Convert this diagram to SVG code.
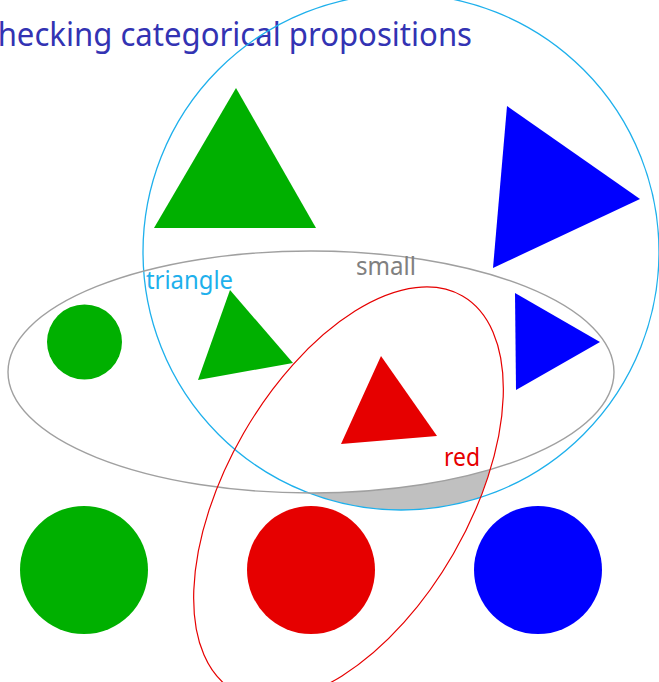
<svg xmlns="http://www.w3.org/2000/svg" width="659" height="682" viewBox="0 0 659 682">
<style>
.green{fill:#00b000}
.red{fill:#e60000}
.blue{fill:#0000ff}
.lbl{font-family:"Noto Sans","Liberation Sans",sans-serif;font-size:26px}
.title{font-family:"Noto Sans","Liberation Sans",sans-serif;font-size:32px;fill:#3333b3}
.set{fill:none}
</style>
<defs>
<clipPath id="cCircle"><circle cx="401" cy="252" r="258"/></clipPath>
<clipPath id="cRed"><ellipse cx="348.5" cy="493.5" rx="228" ry="121" transform="rotate(-60 348.5 493.5)"/></clipPath>
</defs>
<rect width="659" height="682" fill="#ffffff"/>
<g id="shading">
<g clip-path="url(#cCircle)">
<g clip-path="url(#cRed)">
<path fill="#c0c0c0" fill-rule="evenodd" d="M0 0H659V682H0Z M8 372a303 121 0 1 0 606 0a303 121 0 1 0 -606 0Z"/>
</g>
</g>
</g>
<text class="title" x="-22" y="46" textLength="494" lengthAdjust="spacingAndGlyphs">Checking categorical propositions</text>
<g id="green-big-triangle"><polygon class="green" points="236,88 316,228 154,228"/></g>
<g id="blue-big-triangle"><polygon class="blue" points="507,106 640,199 493,268"/></g>
<g id="green-small-circle"><circle class="green" cx="84.5" cy="342" r="37.5"/></g>
<g id="green-small-triangle"><polygon class="green" points="230,290 293,363 198,380"/></g>
<g id="blue-small-triangle"><polygon class="blue" points="515,293 600,342 516,390"/></g>
<g id="red-small-triangle"><polygon class="red" points="381,356 437,436 341,444"/></g>
<g id="green-big-circle"><circle class="green" cx="84" cy="570" r="64"/></g>
<g id="red-big-circle"><circle class="red" cx="311" cy="570" r="64"/></g>
<g id="blue-big-circle"><circle class="blue" cx="538" cy="570" r="64"/></g>
<g id="connectors">
<g id="set-triangle"><circle class="set" cx="401" cy="252" r="258" stroke="#1eb0ec" stroke-width="1.3"/></g>
<g id="set-small"><ellipse class="set" cx="311" cy="372" rx="303" ry="121" stroke="#a0a0a0" stroke-width="1.4"/></g>
<g id="set-red"><ellipse class="set" cx="348.5" cy="493.5" rx="228" ry="121" transform="rotate(-60 348.5 493.5)" stroke="#e60000" stroke-width="1.2"/></g>
</g>
<text class="lbl" x="146" y="289" fill="#1eb0ec" textLength="87" lengthAdjust="spacingAndGlyphs">triangle</text>
<text class="lbl" x="356" y="275" fill="#808080" textLength="60" lengthAdjust="spacingAndGlyphs">small</text>
<text class="lbl" x="444" y="466" fill="#e60000" textLength="36" lengthAdjust="spacingAndGlyphs">red</text>
</svg>
